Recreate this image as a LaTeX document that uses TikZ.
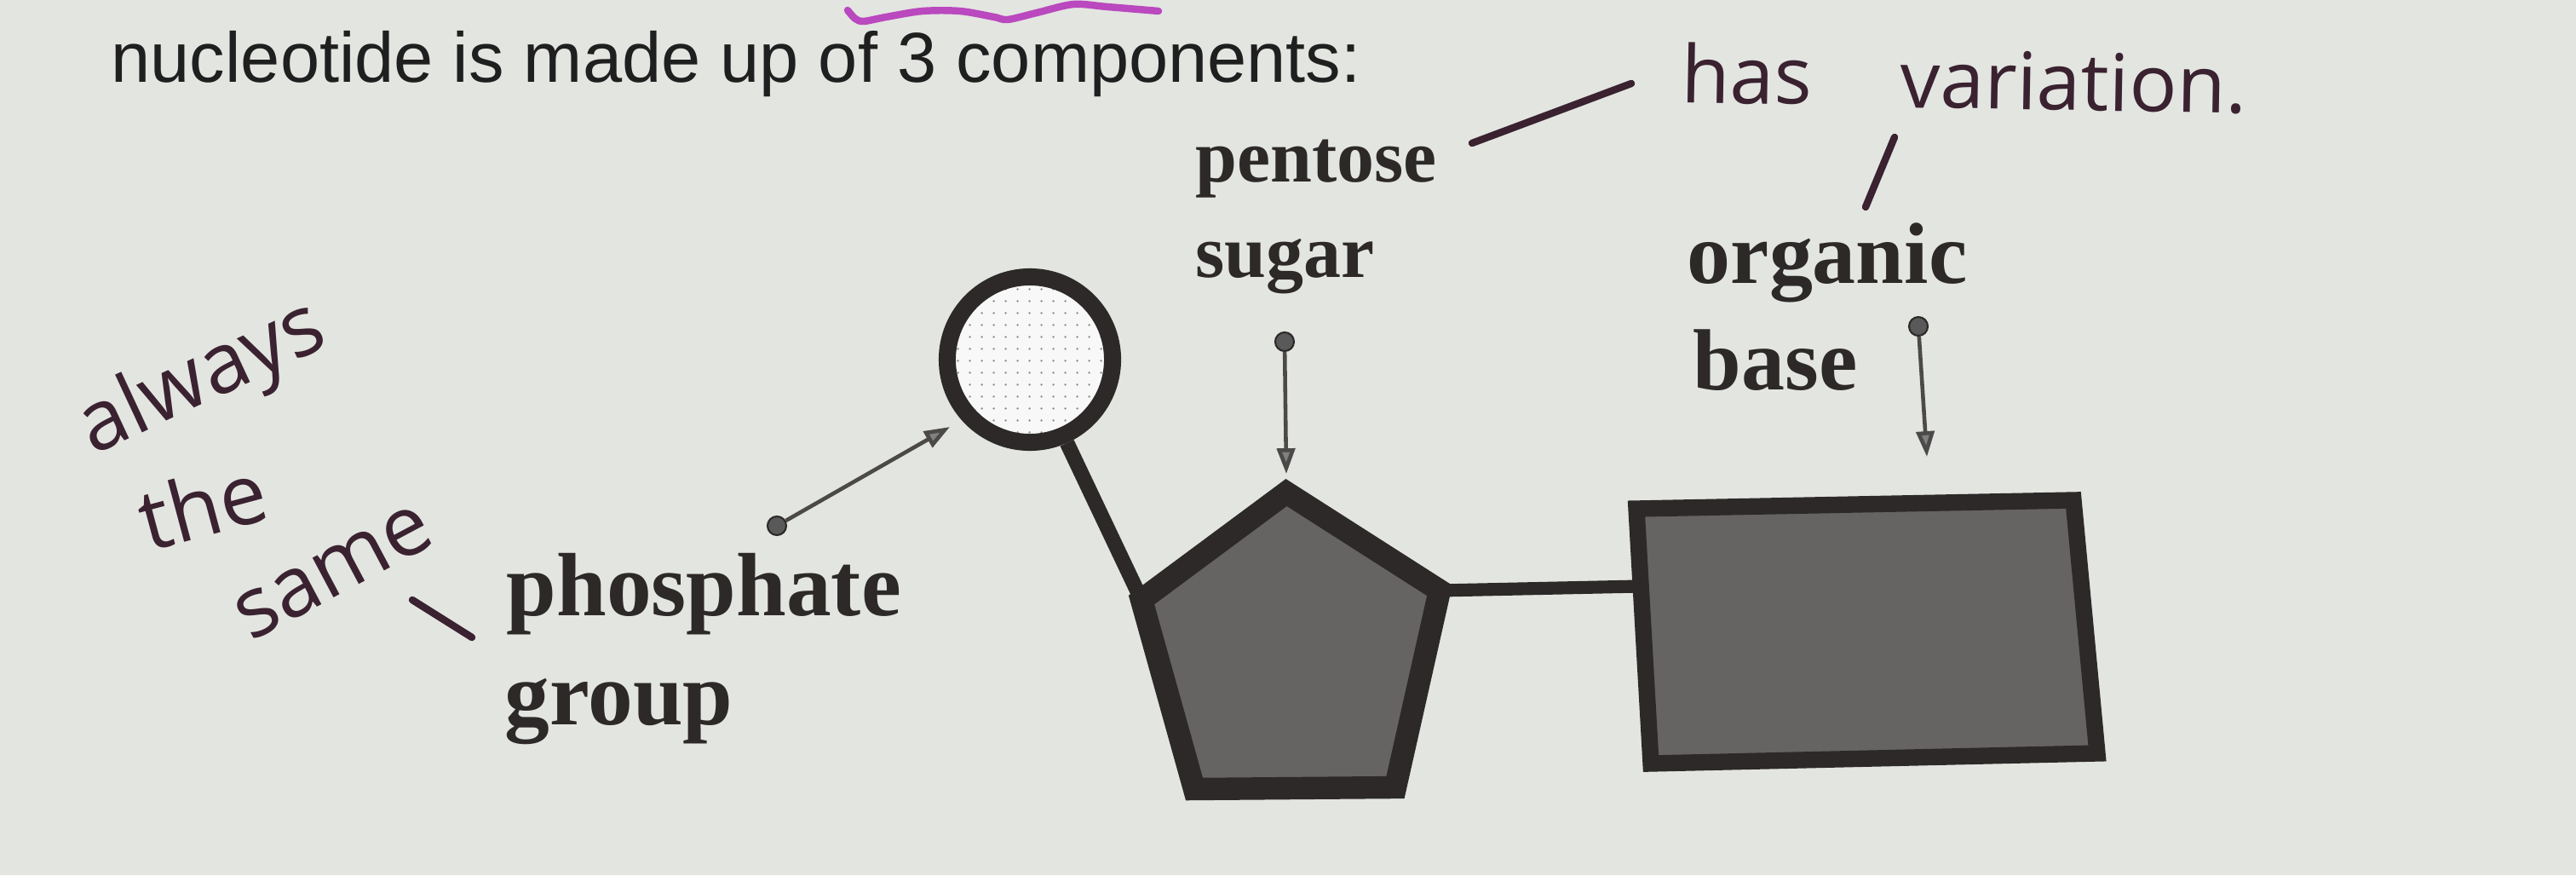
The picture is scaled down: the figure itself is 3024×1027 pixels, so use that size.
\documentclass[tikz,border=0pt]{standalone}
\usepackage{fontspec}
\setmainfont{Liberation Serif}
\newfontfamily\headfont{Liberation Sans}
\newfontfamily\handfont{Open Sans}
\usetikzlibrary{arrows.meta,patterns.meta}
\definecolor{paper}{RGB}{227,229,225}
\definecolor{ink}{RGB}{45,41,41}
\definecolor{shade}{RGB}{102,100,98}
\definecolor{pen}{RGB}{58,34,48}
\definecolor{marker}{RGB}{186,72,190}
\tikzset{
  tag/.style={anchor=base west, inner sep=0pt, text=ink, font=\bfseries\fontsize{#1}{#1}\selectfont},
  hand/.style={inner sep=0pt, text=pen, font=\handfont\fontsize{#1}{#1}\selectfont},
  pointer/.style={draw=ink!85, line width=1.3pt, -{Triangle[length=8.5pt,width=6pt,fill=gray]}},
  pinhead/.style={circle, inner sep=0pt, minimum size=0.22cm, fill=gray!70!black, draw=ink, line width=0.6pt},
  penline/.style={draw=pen, line width=2.4pt, line cap=round},
}
\begin{document}
\begin{tikzpicture}[x=0.01cm, y=-0.01cm]
\fill[paper] (0,0) rectangle (3024,1027);
\useasboundingbox (0,0) rectangle (3024,1027);

\node[anchor=base west, inner sep=0pt, text=black!88, font=\headfont\fontsize{23.6}{28}\selectfont] (title) at (130,97) {nucleotide is made up of 3 components:};
\draw[marker, line width=2.4pt, line cap=round, line join=round] plot[smooth] coordinates {(995,12) (1004,22) (1014,25) (1040,20) (1083,13) (1127,13) (1167,20) (1183,23) (1217,15) (1260,5) (1300,8) (1360,13)};

\node[circle, minimum size=1.94cm, preaction={fill=white!75!paper}, pattern={Dots[distance=4pt,radius=0.45pt]}, pattern color=gray!85, draw=ink, line width=5.7pt] (phos) at (1209,422) {};

\coordinate (stop) at (1510,578);
\coordinate (sleft) at (1340,704);
\coordinate (sright) at (1690,693);
\coordinate (sbr) at (1638,924);
\coordinate (sbl) at (1402,926);
\coordinate (btl) at (1921,597);
\coordinate (btr) at (2434,587);
\coordinate (bbr) at (2462,884);
\coordinate (bbl) at (1938,896);
\coordinate (blink) at (1925,688);

\draw[ink, line width=5pt] (phos.-66) -- (sleft);
\draw[ink, line width=4.3pt] (sright) -- (blink);
\draw[ink, fill=shade, line width=7.5pt] (stop) -- (sright) -- (sbr) -- (sbl) -- (sleft) -- cycle;
\draw[ink, fill=shade, line width=5.5pt] (btl) -- (btr) -- (bbr) -- (bbl) -- cycle;

\node[tag=25] (pentose) at (1403,213) {pentose};
\node[tag=25] (sugar) at (1403,325) {sugar};
\node[tag=29] (organic) at (1980,332) {organic};
\node[tag=29] (base) at (1987,457) {base};
\node[tag=30] (phosphate) at (594,722) {phosphate};
\node[tag=30] (group) at (592,850) {group};

\node[pinhead] (sdot) at (1508,401) {};
\node[pinhead] (bdot) at (2252,383) {};
\node[pinhead] (pdot) at (912,617) {};
\coordinate (stip) at (1510,556);
\coordinate (btip) at (2262,536);
\coordinate (ptip) at (1115,501);
\draw[pointer] (sdot) -- (stip);
\draw[pointer] (bdot) -- (btip);
\draw[pointer] (pdot) -- (ptip);

\node[hand=26.5, anchor=base west, rotate=-1] (has) at (1973,120) {has};
\node[hand=26.5, anchor=base west, rotate=-1] (variation) at (2230,126) {variation.};
\node[hand=28, rotate=25] (always) at (238,446) {always};
\node[hand=28, rotate=15] (the) at (238,592) {the};
\node[hand=28, rotate=28] (same) at (392,672) {same};

\coordinate (m1) at (1728,168);
\coordinate (m2) at (1915,98);
\coordinate (m3) at (2224,161);
\coordinate (m4) at (2190,243);
\coordinate (m5) at (484,704);
\coordinate (m6) at (554,748);
\draw[penline] (m1) -- (m2);
\draw[penline] (m3) -- (m4);
\draw[penline] (m5) -- (m6);
\end{tikzpicture}
\end{document}
